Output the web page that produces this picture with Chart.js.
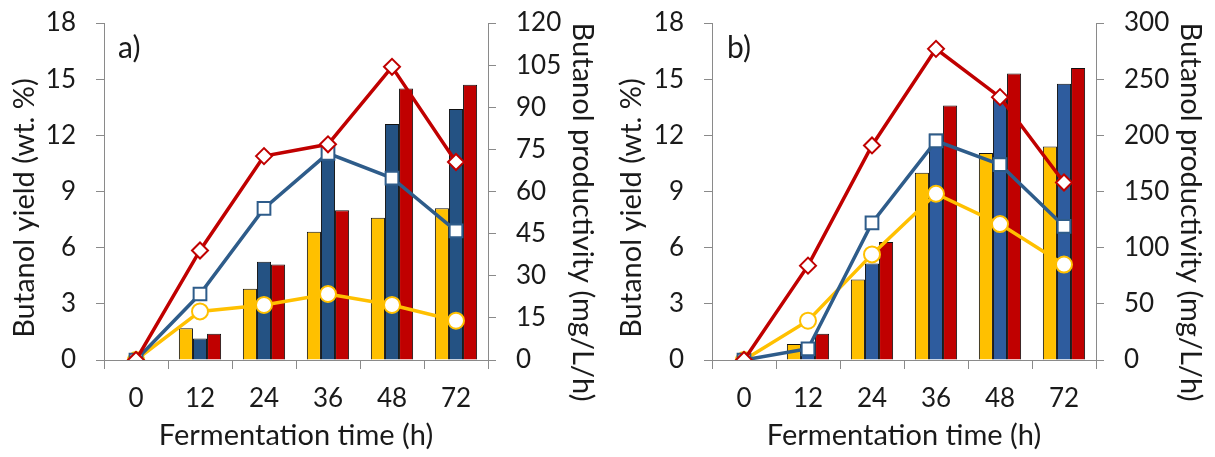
<!DOCTYPE html>
<html lang="en">
<head>
  <meta charset="UTF-8">
  <title>Butanol yield and productivity</title>
  <script src="https://cdn.jsdelivr.net/npm/chart.js"></script>
  <style>
    body { margin: 0; background: #fff; font-family: Lato, sans-serif; }
    .panel { position: absolute; top: 0; }
    .tag { position: absolute; font-size: 30px; color: #1a1a1a; line-height: 1; }
  </style>
</head>
<body>

<div class="panel" style="left:0"><canvas id="chartA" width="607" height="457"></canvas></div>
<div class="panel" style="left:607px"><canvas id="chartB" width="608" height="457"></canvas></div>
<div class="tag" style="left:118px; top:31px">a)</div>
<div class="tag" style="left:727px; top:31px">b)</div>

<script>
  const hours = ['0', '12', '24', '36', '48', '72'];

  // panel a: yield (wt. %) bars, productivity (mg/L/h) lines
  const yieldA_yellow = [0, 1.7, 3.8, 6.85, 7.6, 8.1];
  const yieldA_blue   = [0, 1.15, 5.25, 11.0, 12.6, 13.4];
  const yieldA_red    = [0, 1.4, 5.1, 8.0, 14.5, 14.7];
  const prodA_yellow  = [0, 17.3, 19.6, 23.5, 19.6, 14.0];
  const prodA_blue    = [0, 23.5, 54.0, 73.6, 64.8, 46.0];
  const prodA_red     = [0, 39.0, 72.6, 76.8, 104.4, 70.5];

  // panel b
  const yieldB_yellow = [0, 0.85, 4.3, 10.0, 11.05, 11.4];
  const yieldB_blue   = [0, 0.5, 5.15, 12.1, 14.1, 14.75];
  const yieldB_red    = [0, 1.4, 6.3, 13.6, 15.3, 15.6];
  const prodB_yellow  = [0, 35, 94, 148, 121, 85];
  const prodB_blue    = [0, 10, 122, 195, 174, 119];
  const prodB_red     = [0, 84, 191, 277, 234, 158];

  const YELLOW = '#FFC000';
  const RED = '#C00000';
  const LINE_BLUE = '#2E5C8A';
  const AXIS = '#8a8a8a';
  const TXT = '#1a1a1a';
  const TITLE_FONT = '29px Lato';

  // vertical axis titles, sitting a bit below the plot centre like the original
  const sideTitles = {
    id: 'sideTitles',
    afterDraw(chart) {
      const ctx = chart.ctx;
      ctx.save();
      ctx.font = TITLE_FONT;
      ctx.fillStyle = TXT;
      ctx.textAlign = 'center';
      ctx.textBaseline = 'middle';

      ctx.save();
      ctx.translate(25, 208);
      ctx.rotate(-Math.PI / 2);
      ctx.fillText('Butanol yield (wt. %)', 0, 0);
      ctx.restore();

      ctx.save();
      ctx.translate(chart.width - 25, 212);
      ctx.rotate(Math.PI / 2);
      ctx.fillText('Butanol productivity (mg/L/h)', 0, 0);
      ctx.restore();

      ctx.restore();
    }
  };

  function lineSet(data, color, style, radius) {
    return {
      type: 'line',
      data: data,
      yAxisID: 'y1',
      borderColor: color,
      borderWidth: 3.5,
      pointStyle: style,
      pointRadius: radius,
      pointBorderWidth: 2,
      pointBackgroundColor: '#fff',
      pointBorderColor: color,
      fill: false,
      tension: 0,
      order: 0
    };
  }

  function barSet(data, color) {
    return {
      type: 'bar',
      data: data,
      yAxisID: 'y',
      backgroundColor: color,
      borderColor: '#111',
      borderWidth: 1,
      categoryPercentage: 0.66,
      barPercentage: 1,
      order: 1
    };
  }

  // fixed axis box sizes, and no extra top/bottom padding from tick padding
  function fixY(width) {
    return s => {
      s.width = width;
      s.paddingTop = 0;
      s.paddingBottom = 0;
    };
  }

  function makeChart(id, bars, lines, blueBar, rightMax, rightStep, leftW) {
    const ctx = document.getElementById(id).getContext('2d');
    return new Chart(ctx, {
      data: {
        labels: hours,
        datasets: [
          lineSet(lines[2], RED, 'rectRot', 8),
          lineSet(lines[1], LINE_BLUE, 'rect', 9),
          lineSet(lines[0], YELLOW, 'circle', 8),
          barSet(bars[0], YELLOW),
          barSet(bars[1], blueBar),
          barSet(bars[2], RED)
        ]
      },
      plugins: [sideTitles],
      options: {
        responsive: false,
        animation: false,
        layout: { padding: { top: 23, bottom: 0, left: 0, right: 0 } },
        plugins: { legend: { display: false }, tooltip: { enabled: false } },
        scales: {
          x: {
            offset: true,
            grid: { display: true, drawOnChartArea: false, offset: true, tickLength: 9, color: AXIS },
            border: { color: AXIS },
            ticks: { color: TXT, font: { family: 'Lato', size: 26 }, padding: 14 },
            title: { display: true, text: 'Fermentation time (h)', color: TXT, font: { family: 'Lato', size: 29 } },
            afterFit: s => { s.height = 97; }
          },
          y: {
            position: 'left',
            min: 0, max: 18,
            ticks: { stepSize: 3, color: TXT, font: { family: 'Lato', size: 26 }, padding: 20 },
            grid: { drawOnChartArea: false, tickLength: 8, color: AXIS },
            border: { color: AXIS },
            afterFit: fixY(leftW)
          },
          y1: {
            position: 'right',
            min: 0, max: rightMax,
            ticks: { stepSize: rightStep, color: TXT, font: { family: 'Lato', size: 26 }, padding: 20 },
            grid: { drawOnChartArea: false, tickLength: 8, color: AXIS },
            border: { color: AXIS },
            afterFit: fixY(119)
          }
        }
      }
    });
  }

  makeChart('chartA',
    [yieldA_yellow, yieldA_blue, yieldA_red],
    [prodA_yellow, prodA_blue, prodA_red],
    '#245283', 120, 15, 104);

  makeChart('chartB',
    [yieldB_yellow, yieldB_blue, yieldB_red],
    [prodB_yellow, prodB_blue, prodB_red],
    '#2E5C9E', 300, 50, 105);
</script>

</body>
</html>
